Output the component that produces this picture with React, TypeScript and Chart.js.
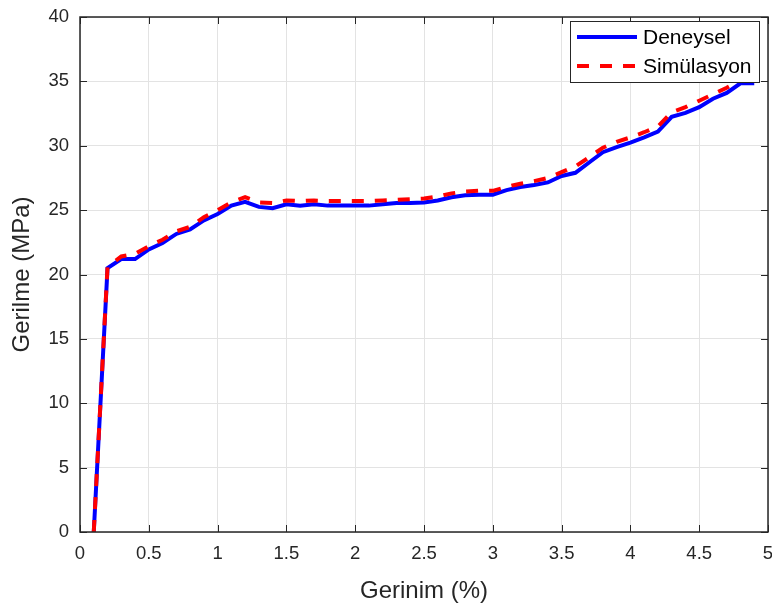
import { useEffect, useRef } from 'react';
import { Chart, registerables } from 'chart.js';

Chart.register(...registerables);

const strain = [0.1, 0.2, 0.3, 0.4, 0.5, 0.6, 0.7, 0.8, 0.9, 1.0, 1.1, 1.2, 1.3, 1.4, 1.5, 1.6, 1.7, 1.8, 1.9, 2.0, 2.1, 2.2, 2.3, 2.4, 2.5, 2.6, 2.7, 2.8, 2.9, 3.0, 3.1, 3.2, 3.3, 3.4, 3.5, 3.6, 3.7, 3.8, 3.9, 4.0, 4.1, 4.2, 4.3, 4.4, 4.5, 4.6, 4.7, 4.8, 4.9];
const deneysel = [0, 20.5, 21.2, 21.2, 21.95, 22.45, 23.15, 23.5, 24.2, 24.7, 25.35, 25.65, 25.25, 25.15, 25.45, 25.35, 25.45, 25.35, 25.35, 25.35, 25.35, 25.45, 25.55, 25.55, 25.6, 25.75, 26.0, 26.15, 26.2, 26.2, 26.55, 26.8, 26.95, 27.15, 27.65, 27.9, 28.7, 29.5, 29.9, 30.25, 30.65, 31.1, 32.25, 32.55, 33.0, 33.65, 34.1, 34.85, 34.85];
const simulasyon = [0, 20.6, 21.4, 21.6, 22.2, 22.7, 23.35, 23.7, 24.45, 25.0, 25.6, 26.0, 25.6, 25.55, 25.75, 25.7, 25.75, 25.7, 25.7, 25.7, 25.7, 25.75, 25.8, 25.85, 25.9, 26.05, 26.3, 26.45, 26.5, 26.5, 26.8, 27.05, 27.25, 27.5, 27.95, 28.4, 29.1, 29.85, 30.3, 30.65, 31.05, 31.5, 32.6, 33.0, 33.5, 34.0, 34.5, 35.1, 35.2];
const seriesLabels = ['Deneysel', 'Simülasyon'];
const xTitle = 'Gerinim (%)';
const yTitle = 'Gerilme (MPa)';
const xMin = 0, xMax = 5, xStep = 0.5;
const yMin = 0, yMax = 40, yStep = 5;

const FONT = "'Liberation Sans', Arial, Helvetica, sans-serif";
const INK = '#262626';
const BLUE = '#0000ff';
const RED = '#ff0000';
const DASH = [12, 11];

const framePlugin = {
  id: 'frame',
  afterDatasetsDraw(chart: any) {
    const { ctx, chartArea: a, scales } = chart;
    const x = scales.x, y = scales.y;
    const L = 7;
    ctx.save();
    ctx.strokeStyle = INK;
    ctx.lineWidth = 1;
    ctx.beginPath();
    x.ticks.forEach((t: any) => {
      const px = Math.round(x.getPixelForValue(t.value)) + 0.5;
      ctx.moveTo(px, a.bottom); ctx.lineTo(px, a.bottom - L);
      ctx.moveTo(px, a.top); ctx.lineTo(px, a.top + L);
    });
    y.ticks.forEach((t: any) => {
      const py = Math.round(y.getPixelForValue(t.value)) + 0.5;
      ctx.moveTo(a.left, py); ctx.lineTo(a.left + L, py);
      ctx.moveTo(a.right, py); ctx.lineTo(a.right - L, py);
    });
    ctx.stroke();
    ctx.lineWidth = 1.5;
    ctx.strokeRect(a.left, a.top, a.right - a.left, a.bottom - a.top);
    ctx.restore();
  },
  afterDraw(chart: any) {
    const { ctx, chartArea: a } = chart;
    const bx = a.right - 198, by = a.top + 4, bw = 189, bh = 61;
    ctx.save();
    ctx.fillStyle = '#ffffff';
    ctx.fillRect(bx, by, bw, bh);
    ctx.strokeStyle = INK;
    ctx.lineWidth = 1;
    ctx.strokeRect(Math.round(bx) + 0.5, Math.round(by) + 0.5, bw, bh);
    const rows = [
      { label: seriesLabels[0], color: BLUE, dash: [] as number[], y: by + 16 },
      { label: seriesLabels[1], color: RED, dash: DASH, y: by + 45 },
    ];
    rows.forEach((r) => {
      ctx.strokeStyle = r.color;
      ctx.lineWidth = 4;
      ctx.setLineDash(r.dash);
      ctx.beginPath();
      ctx.moveTo(bx + 7, r.y);
      ctx.lineTo(bx + 67, r.y);
      ctx.stroke();
      ctx.setLineDash([]);
      ctx.fillStyle = '#000000';
      ctx.font = `21px ${FONT}`;
      ctx.textAlign = 'left';
      ctx.textBaseline = 'middle';
      ctx.fillText(r.label, bx + 73, r.y + 1);
    });
    ctx.restore();
  },
};

export default function App() {
  const ref = useRef<HTMLCanvasElement | null>(null);
  useEffect(() => {
    document.body.style.margin = '0';
    const canvas = ref.current!;
    const chart = new Chart(canvas, {
      type: 'line',
      data: {
        datasets: [
          {
            label: seriesLabels[0],
            data: strain.map((s, i) => ({ x: s, y: deneysel[i] })),
            borderColor: BLUE,
            borderWidth: 4,
            pointRadius: 0,
            tension: 0,
            fill: false,
            order: 1,
          },
          {
            label: seriesLabels[1],
            data: strain.map((s, i) => ({ x: s, y: simulasyon[i] })),
            borderColor: RED,
            borderWidth: 4,
            borderDash: DASH,
            pointRadius: 0,
            tension: 0,
            fill: false,
            order: 0,
          },
        ],
      },
      options: {
        responsive: false,
        animation: false,
        devicePixelRatio: 1,
        layout: { padding: { top: 17, right: 4, left: 0, bottom: 0 } },
        plugins: { legend: { display: false }, tooltip: { enabled: false } },
        scales: {
          x: {
            type: 'linear',
            min: xMin,
            max: xMax,
            afterFit: (s: any) => { s.height = 76; s.paddingLeft = 0; s.paddingRight = 0; },
            border: { display: false },
            grid: { color: '#e3e3e3', lineWidth: 1, drawTicks: false },
            ticks: {
              stepSize: xStep,
              padding: 11,
              color: INK,
              font: { family: FONT, size: 18.5 },
              callback: (v: any) => String(Number(v)),
            },
            title: {
              display: true,
              text: xTitle,
              color: INK,
              font: { family: FONT, size: 24 },
              padding: { top: 0, bottom: 2 },
            },
          },
          y: {
            type: 'linear',
            min: yMin,
            max: yMax,
            afterFit: (s: any) => { s.width = 80; s.paddingTop = 0; s.paddingBottom = 0; },
            border: { display: false },
            grid: { color: '#e3e3e3', lineWidth: 1, drawTicks: false },
            ticks: {
              stepSize: yStep,
              padding: 11,
              color: INK,
              font: { family: FONT, size: 18.5 },
              callback: (v: any) => String(Number(v)),
            },
            title: {
              display: true,
              text: yTitle,
              color: INK,
              font: { family: FONT, size: 24 },
              padding: { top: 8, bottom: 0 },
            },
          },
        },
      },
      plugins: [framePlugin],
    } as any);
    return () => chart.destroy();
  }, []);
  return <canvas ref={ref} width={772} height={608} style={{ display: 'block' }} />;
}
